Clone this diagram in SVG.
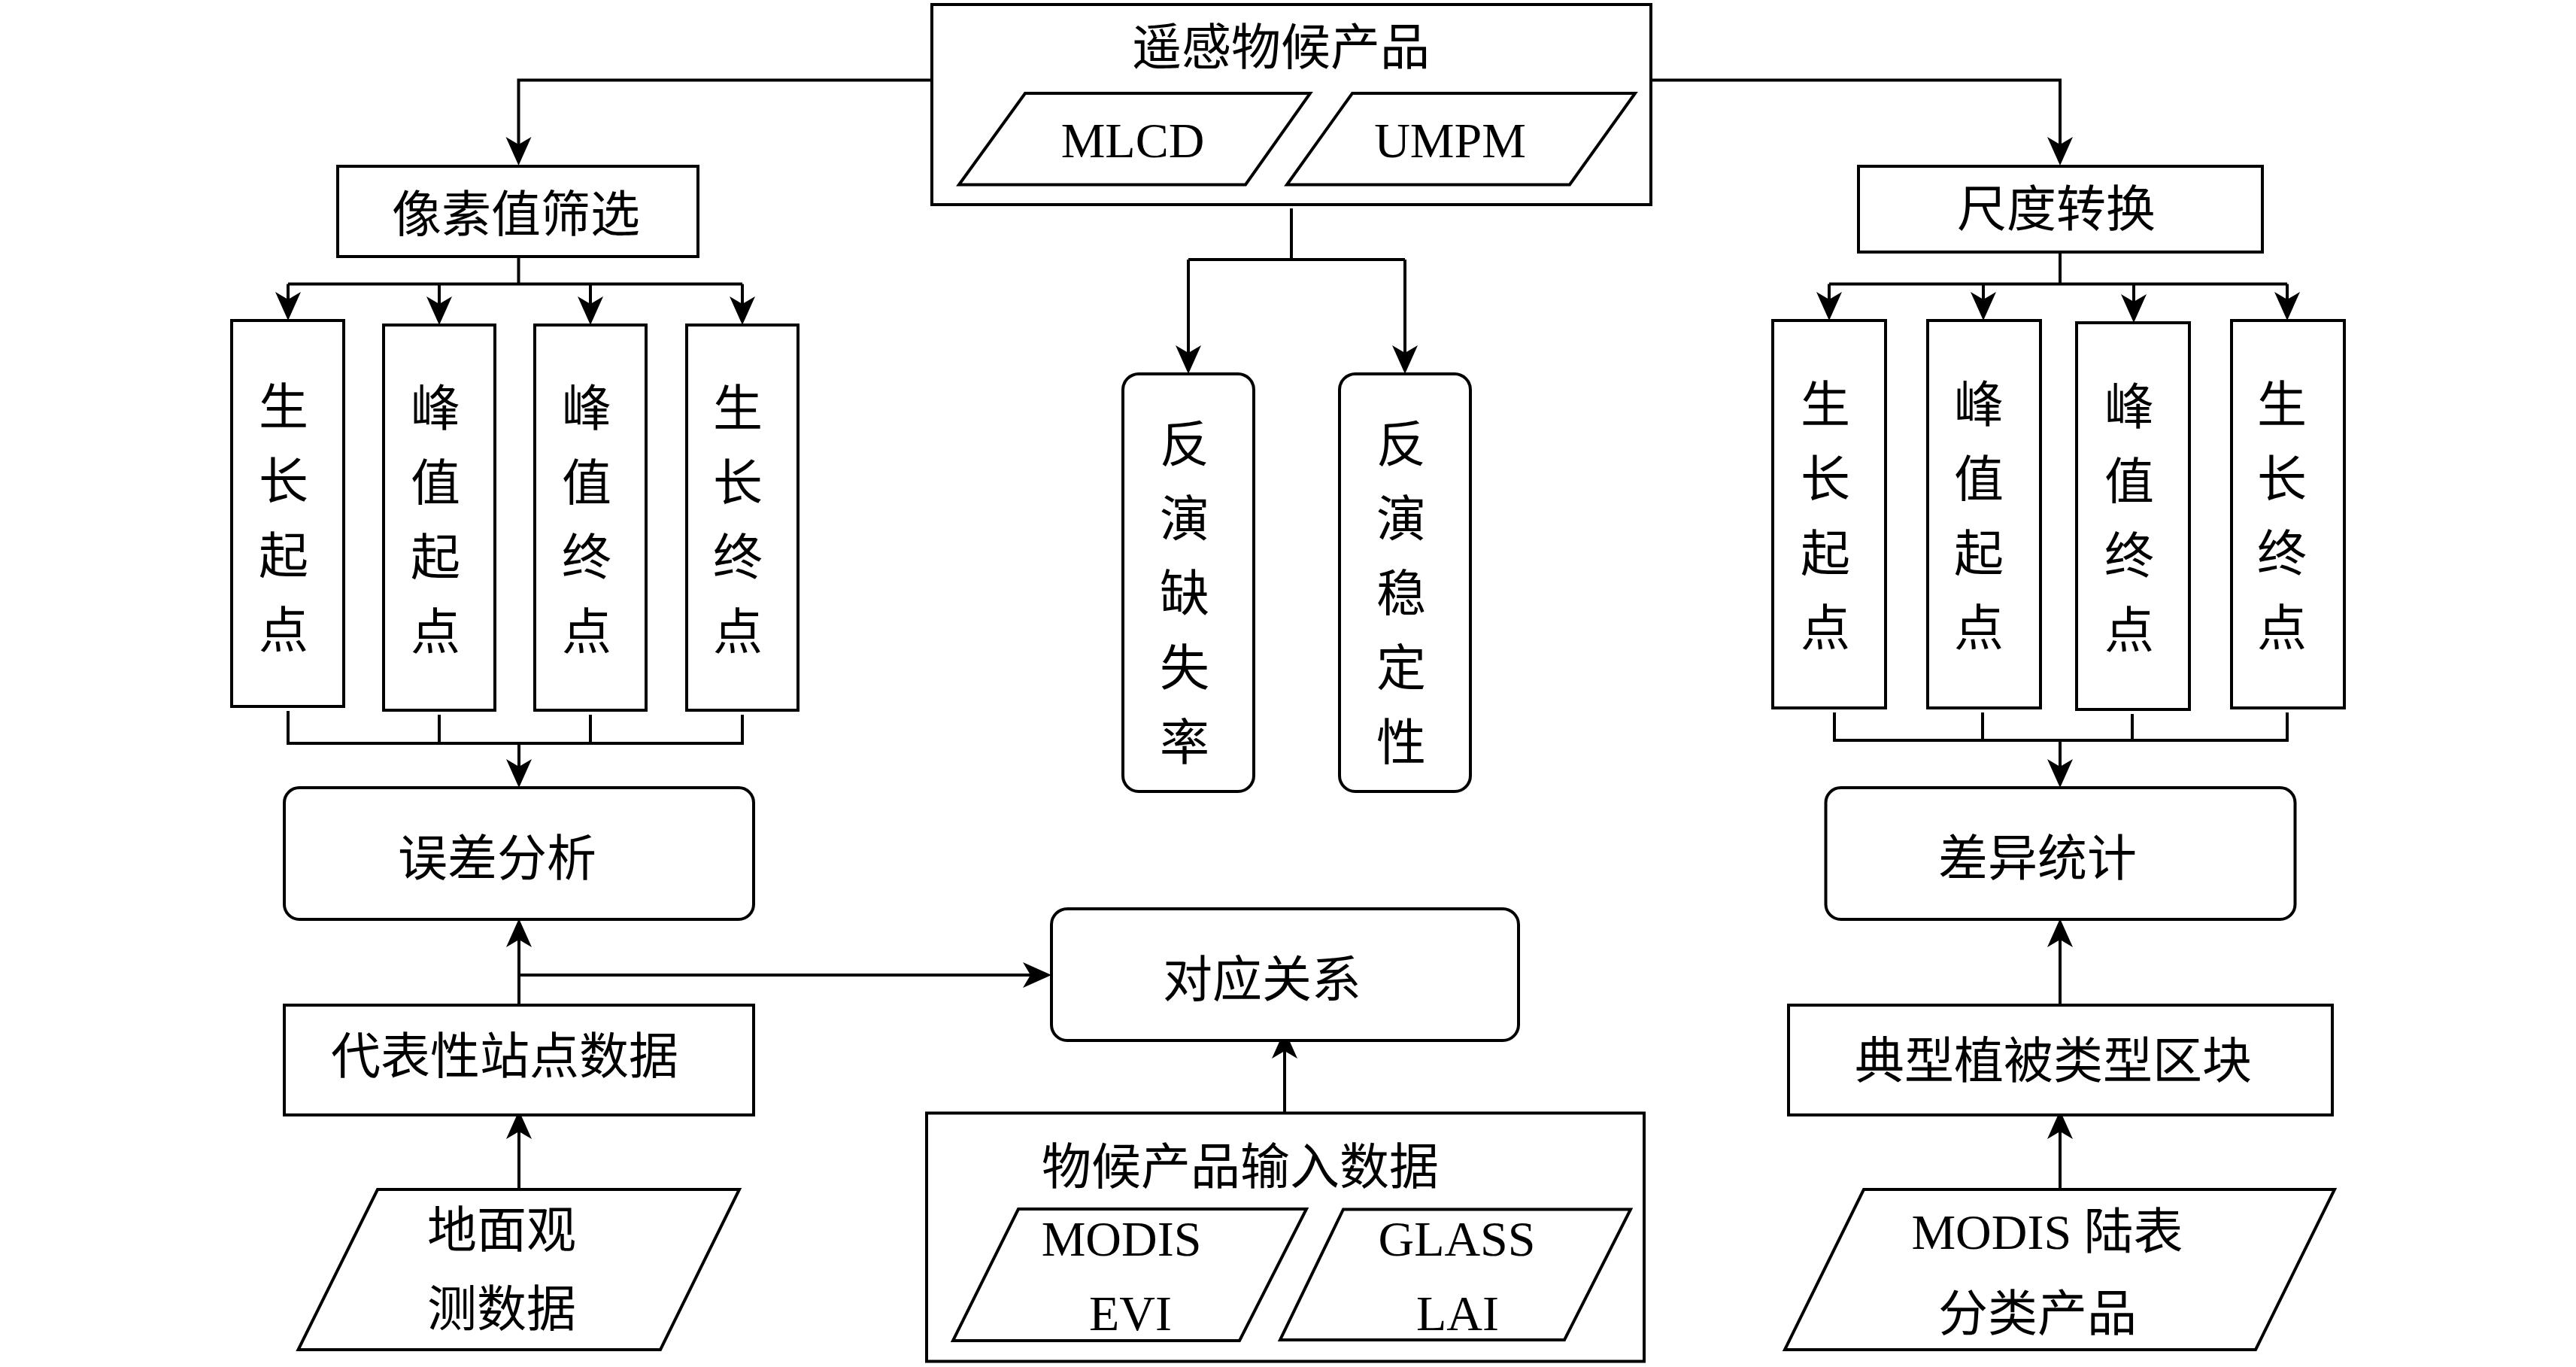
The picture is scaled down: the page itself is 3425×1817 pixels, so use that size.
<svg xmlns="http://www.w3.org/2000/svg" width="3425" height="1817" viewBox="0 0 3425 1817">
<style>
.b{fill:#fff;stroke:#000;stroke-width:4}
.c{fill:none;stroke:#000;stroke-width:4}
.t{font-family:"Liberation Serif","Noto Sans CJK SC",serif;font-size:66px;fill:#000;text-anchor:middle}
</style>
<defs>
<marker id="ah" markerUnits="userSpaceOnUse" markerWidth="42" markerHeight="38" viewBox="-12 -19 42 38" refX="0" refY="0" orient="auto">
<path d="M28,0 L-10,-17 L0,0 L-10,17 Z" fill="#000"/>
</marker>
</defs>
<rect x="0" y="0" width="3425" height="1817" fill="#fff"/>

<g id="connectors">
<path class="c" d="M1239,106.5 H689.5 V192" marker-end="url(#ah)"/>
<path class="c" d="M2195,106.5 H2739 V192" marker-end="url(#ah)"/>
<path class="c" d="M689.5,341 V377.5 M383,377.5 H987"/>
<path class="c" d="M383,377.5 V398" marker-end="url(#ah)"/>
<path class="c" d="M584,377.5 V404" marker-end="url(#ah)"/>
<path class="c" d="M785,377.5 V404" marker-end="url(#ah)"/>
<path class="c" d="M987,377.5 V404" marker-end="url(#ah)"/>
<path class="c" d="M1717,277 V345 M1580,345 H1868"/>
<path class="c" d="M1580,345 V469" marker-end="url(#ah)"/>
<path class="c" d="M1868,345 V469" marker-end="url(#ah)"/>
<path class="c" d="M2739,335 V377.5 M2432,377.5 H3041"/>
<path class="c" d="M2432,377.5 V398" marker-end="url(#ah)"/>
<path class="c" d="M2637,377.5 V398" marker-end="url(#ah)"/>
<path class="c" d="M2837,377.5 V401" marker-end="url(#ah)"/>
<path class="c" d="M3041,377.5 V398" marker-end="url(#ah)"/>
<path class="c" d="M383,945 V988 H987 V950 M584,950 V988 M785,950 V988"/>
<path class="c" d="M690,988 V1019" marker-end="url(#ah)"/>
<path class="c" d="M690,1336 V1249" marker-end="url(#ah)"/>
<path class="c" d="M690,1296 H1370" marker-end="url(#ah)"/>
<path class="c" d="M690,1581 V1504" marker-end="url(#ah)"/>
<path class="c" d="M1708,1479.5 V1397" marker-end="url(#ah)"/>
<path class="c" d="M2439,947 V984 H3041 V947 M2636,947 V984 M2835,949 V984"/>
<path class="c" d="M2739,984 V1019" marker-end="url(#ah)"/>
<path class="c" d="M2739,1336 V1249" marker-end="url(#ah)"/>
<path class="c" d="M2739,1581 V1504" marker-end="url(#ah)"/>
</g>

<g id="remote-products">
<rect class="b" x="1239" y="6" width="956" height="266"/>
<text class="t" x="1703" y="86">遥感物候产品</text>
<polygon class="b" points="1363,124 1742,124 1656,245.5 1275,245.5"/>
<text class="t" x="1506" y="209">MLCD</text>
<polygon class="b" points="1798,124 2174,124 2087,245.5 1711,245.5"/>
<text class="t" x="1928" y="209">UMPM</text>
</g>

<g id="pixel-filter">
<rect class="b" x="449" y="221" width="479" height="120"/>
<text class="t" x="686" y="308">像素值筛选</text>
</g>

<g id="L-sos">
<rect class="b" x="308" y="426" width="149" height="513"/>
<text class="t" x="377" y="564"><tspan x="377">生</tspan><tspan x="377" dy="99">长</tspan><tspan x="377" dy="99">起</tspan><tspan x="377" dy="99">点</tspan></text>
</g>
<g id="L-pos">
<rect class="b" x="510" y="432" width="148" height="512"/>
<text class="t" x="579" y="566"><tspan x="579">峰</tspan><tspan x="579" dy="99">值</tspan><tspan x="579" dy="99">起</tspan><tspan x="579" dy="99">点</tspan></text>
</g>
<g id="L-poe">
<rect class="b" x="711" y="432" width="148" height="512"/>
<text class="t" x="780" y="566"><tspan x="780">峰</tspan><tspan x="780" dy="99">值</tspan><tspan x="780" dy="99">终</tspan><tspan x="780" dy="99">点</tspan></text>
</g>
<g id="L-eos">
<rect class="b" x="913" y="432" width="148" height="512"/>
<text class="t" x="981" y="566"><tspan x="981">生</tspan><tspan x="981" dy="99">长</tspan><tspan x="981" dy="99">终</tspan><tspan x="981" dy="99">点</tspan></text>
</g>

<g id="retrieval-missing">
<rect class="b" x="1493" y="497" width="174" height="555" rx="21"/>
<text class="t" x="1575" y="614"><tspan x="1575">反</tspan><tspan x="1575" dy="99">演</tspan><tspan x="1575" dy="99">缺</tspan><tspan x="1575" dy="99">失</tspan><tspan x="1575" dy="99">率</tspan></text>
</g>
<g id="retrieval-stability">
<rect class="b" x="1781" y="497" width="174" height="555" rx="21"/>
<text class="t" x="1863" y="614"><tspan x="1863">反</tspan><tspan x="1863" dy="99">演</tspan><tspan x="1863" dy="99">稳</tspan><tspan x="1863" dy="99">定</tspan><tspan x="1863" dy="99">性</tspan></text>
</g>

<g id="scale-conversion">
<rect class="b" x="2471" y="221" width="537" height="114"/>
<text class="t" x="2734" y="301">尺度转换</text>
</g>

<g id="R-sos">
<rect class="b" x="2357" y="426" width="150" height="515"/>
<text class="t" x="2427" y="561"><tspan x="2427">生</tspan><tspan x="2427" dy="99">长</tspan><tspan x="2427" dy="99">起</tspan><tspan x="2427" dy="99">点</tspan></text>
</g>
<g id="R-pos">
<rect class="b" x="2563" y="426" width="150" height="515"/>
<text class="t" x="2631" y="561"><tspan x="2631">峰</tspan><tspan x="2631" dy="99">值</tspan><tspan x="2631" dy="99">起</tspan><tspan x="2631" dy="99">点</tspan></text>
</g>
<g id="R-poe">
<rect class="b" x="2761" y="429" width="150" height="514"/>
<text class="t" x="2831" y="564"><tspan x="2831">峰</tspan><tspan x="2831" dy="99">值</tspan><tspan x="2831" dy="99">终</tspan><tspan x="2831" dy="99">点</tspan></text>
</g>
<g id="R-eos">
<rect class="b" x="2967" y="426" width="150" height="515"/>
<text class="t" x="3034" y="561"><tspan x="3034">生</tspan><tspan x="3034" dy="99">长</tspan><tspan x="3034" dy="99">终</tspan><tspan x="3034" dy="99">点</tspan></text>
</g>

<g id="error-analysis">
<rect class="b" x="378" y="1047" width="624" height="175" rx="20"/>
<text class="t" x="661" y="1164">误差分析</text>
</g>
<g id="site-data">
<rect class="b" x="378" y="1336" width="624" height="146"/>
<text class="t" x="671" y="1427">代表性站点数据</text>
</g>
<g id="ground-obs">
<polygon class="b" points="502,1581 983,1581 878,1794 396.5,1794"/>
<text class="t" x="667" y="1658">地面观</text>
<text class="t" x="667" y="1763">测数据</text>
</g>

<g id="correspondence">
<rect class="b" x="1398" y="1208" width="621" height="175" rx="21"/>
<text class="t" x="1678" y="1325">对应关系</text>
</g>
<g id="input-data">
<rect class="b" x="1232" y="1479.5" width="954" height="330"/>
<text class="t" x="1649" y="1574">物候产品输入数据</text>
<polygon class="b" points="1354,1607 1737,1607 1648,1782 1267,1782"/>
<text class="t" x="1491" y="1669">MODIS</text>
<text class="t" x="1503" y="1768">EVI</text>
<polygon class="b" points="1786,1607.5 2168,1607.5 2080,1781 1702,1781"/>
<text class="t" x="1937" y="1669">GLASS</text>
<text class="t" x="1938" y="1768">LAI</text>
</g>

<g id="difference-stats">
<rect class="b" x="2427.5" y="1047" width="624" height="175" rx="20"/>
<text class="t" x="2709" y="1164">差异统计</text>
</g>
<g id="vegetation-blocks">
<rect class="b" x="2378" y="1336" width="723" height="146"/>
<text class="t" x="2730" y="1433">典型植被类型区块</text>
</g>
<g id="landcover">
<polygon class="b" points="2478,1581 3104,1581 2999,1794 2373,1794"/>
<text class="t" x="2722" y="1660">MODIS 陆表</text>
<text class="t" x="2709" y="1769">分类产品</text>
</g>
</svg>
